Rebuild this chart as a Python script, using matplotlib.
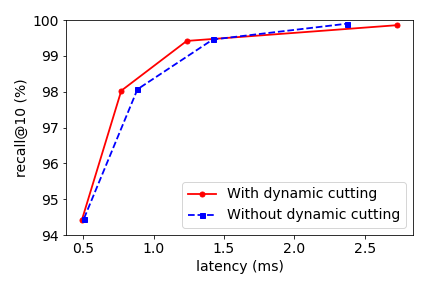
import matplotlib.pyplot as plt

lat_with = [0.49, 0.77, 1.235, 2.73]
rec_with = [94.42, 98.03, 99.42, 99.86]
lat_without = [0.505, 0.885, 1.42, 2.37]
rec_without = [94.46, 98.07, 99.46, 99.90]

plt.rcParams['font.size'] = 14

fig = plt.figure(figsize=(6, 4), dpi=72)
ax = fig.add_subplot(111)
fig.subplots_adjust(left=0.153, right=0.956, bottom=0.184, top=0.93)

ax.plot(lat_with, rec_with, 'r-o', markersize=5, linewidth=1.8, label="With dynamic cutting")
ax.plot(lat_without, rec_without, 'b--s', markersize=5, linewidth=1.8, label="Without dynamic cutting")

ax.set_ylim(94, 100)
ax.set_xlabel("latency (ms)")
ax.set_ylabel("recall@10 (%)")
ax.legend(loc="lower right")

plt.savefig("out.png", dpi=72)
